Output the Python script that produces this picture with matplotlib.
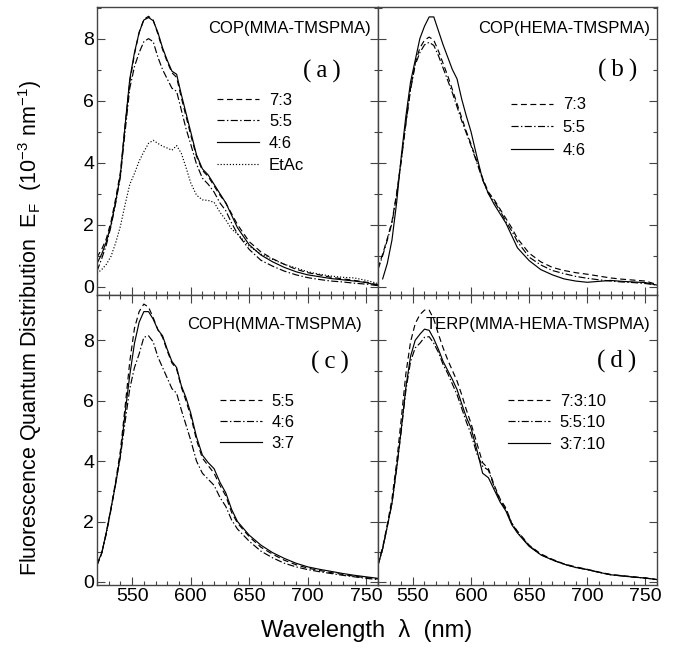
import numpy as np
import matplotlib.pyplot as plt
from matplotlib.ticker import MultipleLocator

plt.rcParams.update({
    'font.family': ['Liberation Sans', 'DejaVu Sans'],
    'mathtext.default': 'regular',
    'axes.linewidth': 1.0,
    'axes.edgecolor': '#444444',
    'xtick.color': '#444444',
    'ytick.color': '#444444',
    'xtick.labelcolor': 'black',
    'ytick.labelcolor': 'black',
    'xtick.direction': 'in',
    'ytick.direction': 'in',
    'font.size': 14,
})

# wavelength grid (nm)
wl = [520, 524, 528, 532, 536, 540, 544, 548, 552, 556, 560, 564, 568, 572, 576,
      580, 584, 588, 592, 596, 600, 605, 610, 615, 620, 625, 630, 635, 640, 650,
      660, 670, 680, 690, 700, 710, 720, 730, 740, 750, 760]

# (a) COP(MMA-TMSPMA)
a_73 = [0.95, 1.2, 1.55, 2.1, 2.85, 3.7, 5.2, 6.6, 7.5, 8.2, 8.62, 8.72, 8.6, 8.15, 7.65,
        7.25, 6.9, 6.75, 6.1, 5.5, 4.9, 4.2, 3.75, 3.55, 3.25, 2.95, 2.7, 2.35, 2.0, 1.45,
        1.12, 0.9, 0.72, 0.56, 0.45, 0.38, 0.3, 0.25, 0.2, 0.14, 0.06]
a_55 = [0.5, 0.9, 1.35, 1.95, 2.7, 3.55, 5.0, 6.4, 7.1, 7.55, 7.9, 8.0, 7.9, 7.4, 7.0,
        6.7, 6.4, 6.3, 5.7, 5.1, 4.6, 3.95, 3.5, 3.3, 3.05, 2.7, 2.45, 2.05, 1.7, 1.2,
        0.85, 0.66, 0.5, 0.38, 0.29, 0.23, 0.18, 0.15, 0.11, 0.08, 0.03]
a_46 = [0.75, 1.05, 1.45, 2.0, 2.75, 3.6, 5.2, 6.7, 7.55, 8.2, 8.6, 8.68, 8.58, 8.2, 7.7,
        7.3, 6.95, 6.85, 6.2, 5.6, 5.0, 4.25, 3.8, 3.6, 3.3, 3.0, 2.7, 2.3, 1.9, 1.35,
        1.02, 0.8, 0.62, 0.48, 0.38, 0.32, 0.26, 0.22, 0.18, 0.13, 0.04]
a_etac = [0.43, 0.55, 0.72, 0.98, 1.42, 1.95, 2.65, 3.3, 3.65, 4.05, 4.35, 4.62, 4.72, 4.62, 4.53,
          4.47, 4.4, 4.55, 4.3, 3.85, 3.35, 2.95, 2.8, 2.78, 2.72, 2.4, 2.15, 1.85, 1.7, 1.3,
          1.05, 0.88, 0.72, 0.6, 0.48, 0.4, 0.34, 0.3, 0.28, 0.2, 0.1]

# (b) COP(HEMA-TMSPMA)
b_73 = [0.6, 1.05, 1.55, 2.1, 3.0, 4.1, 5.3, 6.4, 7.2, 7.7, 7.95, 8.05, 7.95, 7.6, 7.2,
        6.8, 6.35, 5.9, 5.45, 5.0, 4.6, 4.05, 3.5, 3.05, 2.8, 2.5, 2.2, 1.9, 1.55, 1.08,
        0.8, 0.62, 0.52, 0.45, 0.4, 0.34, 0.28, 0.24, 0.21, 0.18, 0.07]
b_55 = [0.55, 1.0, 1.5, 2.05, 2.95, 4.05, 5.25, 6.35, 7.15, 7.55, 7.8, 7.88, 7.78, 7.45, 7.05,
        6.65, 6.25, 5.8, 5.35, 4.95, 4.55, 4.0, 3.45, 3.0, 2.75, 2.45, 2.1, 1.8, 1.45, 0.95,
        0.7, 0.52, 0.42, 0.33, 0.27, 0.22, 0.18, 0.15, 0.13, 0.1, 0.05]
b_46 = [np.nan, 0.25, 0.75, 1.5, 2.7, 4.2, 5.5, 6.6, 7.3, 8.0, 8.4, 8.7, 8.7, 8.25, 7.8,
        7.4, 7.0, 6.7, 6.05, 5.5, 5.0, 4.2, 3.45, 3.0, 2.65, 2.35, 2.05, 1.65, 1.25, 0.84,
        0.55, 0.38, 0.25, 0.18, 0.14, 0.17, 0.2, 0.17, 0.15, 0.13, 0.05]

# (c) COPH(MMA-TMSPMA)
c_55 = [0.55, 0.95, 1.65, 2.45, 3.35, 4.35, 5.8, 7.3, 8.4, 8.95, 9.2, 9.1, 8.75, 8.35, 8.1,
        7.65, 7.25, 7.05, 6.45, 6.0, 5.5, 4.7, 4.1, 3.85, 3.6, 3.2, 2.85, 2.3, 1.95, 1.5,
        1.15, 0.92, 0.72, 0.57, 0.46, 0.38, 0.31, 0.25, 0.19, 0.14, 0.1]
c_46 = [0.55, 0.95, 1.6, 2.4, 3.3, 4.15, 5.3, 6.4, 7.1, 7.55, 8.1, 8.15, 7.95, 7.45, 7.1,
        6.75, 6.4, 6.25, 5.7, 5.2, 4.7, 4.0, 3.6, 3.4, 3.2, 2.8, 2.5, 2.05, 1.75, 1.35,
        1.02, 0.8, 0.62, 0.5, 0.41, 0.34, 0.28, 0.22, 0.17, 0.12, 0.08]
c_37 = [0.6, 0.95, 1.65, 2.45, 3.25, 4.2, 5.6, 6.85, 7.9, 8.6, 8.95, 8.95, 8.7, 8.35, 8.15,
        7.7, 7.3, 7.1, 6.5, 6.1, 5.6, 4.8, 4.2, 3.95, 3.75, 3.3, 2.95, 2.4, 2.0, 1.55,
        1.22, 0.97, 0.78, 0.62, 0.5, 0.42, 0.35, 0.28, 0.22, 0.17, 0.12]

# (d) TERP(MMA-HEMA-TMSPMA)
d_7310 = [0.6, 1.15, 1.9, 2.75, 3.95, 5.4, 6.9, 7.95, 8.55, 8.85, 9.0, 9.0, 8.7, 8.2, 7.75,
          7.35, 7.0, 6.65, 6.2, 5.7, 5.25, 4.6, 3.95, 3.75, 3.2, 2.75, 2.45, 1.95, 1.68, 1.22,
          0.93, 0.75, 0.6, 0.5, 0.42, 0.33, 0.25, 0.21, 0.17, 0.13, 0.08]
d_5510 = [0.55, 1.1, 1.84, 2.6, 3.75, 5.0, 6.35, 7.3, 7.75, 7.9, 8.1, 8.12, 7.9, 7.6, 7.2,
          6.9, 6.55, 6.2, 5.75, 5.3, 4.9, 4.25, 3.83, 3.7, 3.15, 2.7, 2.4, 1.95, 1.65, 1.2,
          0.9, 0.73, 0.59, 0.48, 0.41, 0.32, 0.24, 0.2, 0.16, 0.13, 0.08]
d_3710 = [0.55, 1.1, 1.84, 2.6, 3.75, 5.05, 6.45, 7.47, 8.0, 8.2, 8.37, 8.33, 8.05, 7.7, 7.3,
          7.0, 6.7, 6.37, 5.9, 5.45, 5.1, 4.38, 3.6, 3.45, 3.05, 2.65, 2.35, 1.9, 1.62, 1.18,
          0.9, 0.73, 0.59, 0.48, 0.41, 0.32, 0.24, 0.2, 0.16, 0.13, 0.08]

DASH = (0, (5, 3))
DASHDOT = (0, (6, 2, 1.2, 2))
DOT = (0, (1, 1.6))
SOLID = '-'

panels = [
    ('COP(MMA-TMSPMA)', '(a)', [(a_73, DASH, '7:3'), (a_55, DASHDOT, '5:5'),
                                (a_46, SOLID, '4:6'), (a_etac, DOT, 'EtAc')]),
    ('COP(HEMA-TMSPMA)', '(b)', [(b_73, DASH, '7:3'), (b_55, DASHDOT, '5:5'),
                                 (b_46, SOLID, '4:6')]),
    ('COPH(MMA-TMSPMA)', '(c)', [(c_55, DASH, '5:5'), (c_46, DASHDOT, '4:6'),
                                 (c_37, SOLID, '3:7')]),
    ('TERP(MMA-HEMA-TMSPMA)', '(d)', [(d_7310, DASH, '7:3:10'), (d_5510, DASHDOT, '5:5:10'),
                                      (d_3710, SOLID, '3:7:10')]),
]

W, Hpx = 675, 649
xl, xm, xr = 97 / W, 378 / W, 657 / W
yt, ym, yb = 1 - 7 / Hpx, 1 - 295 / Hpx, 1 - 585 / Hpx
rects = [[xl, ym, xm - xl, yt - ym], [xm, ym, xr - xm, yt - ym],
         [xl, yb, xm - xl, ym - yb], [xm, yb, xr - xm, ym - yb]]
ylims = [(-0.27, 9.02), (-0.27, 9.02), (-0.1, 9.5), (-0.1, 9.5)]
# legend anchor (axes fraction), row spacing, title and panel-letter positions
leg_pos = [(0.428, 0.703), (0.477, 0.686), (0.438, 0.66), (0.466, 0.66)]
leg_space = [0.40, 0.46, 0.38, 0.40]
title_pos = [(0.975, 0.927), (0.975, 0.927), (0.943, 0.897), (0.978, 0.897)]
letter_pos = [(0.80, 0.776), (0.86, 0.778), (0.829, 0.769), (0.855, 0.772)]

fig = plt.figure(figsize=(6.75, 6.49), dpi=100)
for i, (rect, (title, letter, series)) in enumerate(zip(rects, panels)):
    ax = fig.add_axes(rect)
    for vals, ls, lab in series:
        ax.plot(wl, vals, color='black', lw=0.85, linestyle=ls, label=lab)
    ax.set_xlim(520, 760)
    ax.set_ylim(*ylims[i])
    ax.xaxis.set_major_locator(MultipleLocator(50))
    ax.xaxis.set_minor_locator(MultipleLocator(10))
    ax.yaxis.set_major_locator(MultipleLocator(2))
    ax.yaxis.set_minor_locator(MultipleLocator(1))
    ax.tick_params(which='both', left=True, right=True, bottom=True, top=(i >= 2))
    ax.tick_params(which='major', length=6, width=0.8, labelsize=14, pad=2)
    ax.tick_params(which='minor', length=3, width=0.8)
    if i % 2 == 1:
        ax.tick_params(labelleft=False)
    if i < 2:
        ax.tick_params(labelbottom=False)
    ax.text(title_pos[i][0], title_pos[i][1], title, transform=ax.transAxes,
            ha='right', va='center', fontsize=12)
    ax.text(letter_pos[i][0], letter_pos[i][1], letter.replace('(', '(\u2009').replace(')', '\u2009)'),
            transform=ax.transAxes, ha='center', va='center', fontsize=18,
            family='Liberation Serif')
    ax.legend(loc='upper left', bbox_to_anchor=leg_pos[i], frameon=False,
              fontsize=12, handlelength=2.5, handletextpad=0.6,
              labelspacing=leg_space[i], borderpad=0, borderaxespad=0)

fig.text(30 / W, 1 - 328 / Hpx,
         'Fluorescence Quantum Distribution  E$_F$  (10$^{-3}$ nm$^{-1}$)',
         rotation=90, ha='center', va='center', fontsize=15.5)
fig.text(367 / W, 1 - 630 / Hpx, 'Wavelength  \u03bb  (nm)',
         ha='center', va='center', fontsize=17)

fig.savefig('out.png', dpi=100)
